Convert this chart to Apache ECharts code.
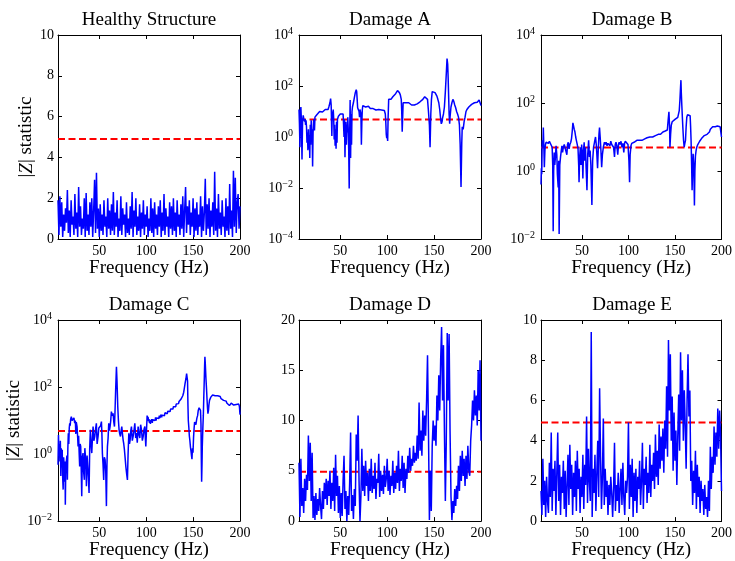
<!DOCTYPE html>
<html><head><meta charset="utf-8">
<script src="https://cdn.jsdelivr.net/npm/echarts@6/dist/echarts.min.js"></script>
<style>html,body{margin:0;padding:0;background:#fff}#c{width:735px;height:561px}</style>
</head><body><div id="c"></div>
<script>
// ---------------- data ----------------
const FREQ_START = 6, FREQ_END = 200, FREQ_STEP = 1;
const THRESHOLD = 4.9;
const TITLES = ['Healthy Structure', 'Damage A', 'Damage B', 'Damage C', 'Damage D', 'Damage E'];
const X_TICKS = [50, 100, 150, 200];
const X_NAME = 'Frequency (Hz)';
const Y_NAME = '|{i|Z}| statistic';

// uniformly sampled (1 Hz from 6 Hz)
const healthy = [
 1.9,0.2,2.1,0.6,1.8,0.1,1.2,0.4,1.5,0.8,
 2.4,0.3,1.4,0.1,1.9,0.7,1.1,0.2,2.2,0.5,
 1.3,0.1,2.55,0.6,1.6,0.2,1.0,0.5,2.0,0.1,
 2.25,0.4,1.2,0.2,1.8,0.6,2.0,0.1,1.4,2.9,
 0.3,3.25,0.5,1.5,0.1,1.7,0.4,1.2,0.2,1.9,
 0.6,1.1,0.1,2.0,0.5,1.4,0.2,1.7,0.4,2.3,
 0.2,1.3,0.6,1.9,0.1,1.0,0.4,2.1,0.2,1.5,
 0.7,1.2,0.1,1.8,0.3,1.0,0.2,1.6,0.5,2.3,
 0.1,1.4,0.6,2.0,0.2,1.1,0.4,1.7,0.1,1.3,
 0.5,1.9,0.2,1.2,0.6,1.6,0.1,1.0,0.4,2.0,
 0.3,1.5,0.1,1.8,0.5,1.2,0.2,1.6,0.6,1.9,
 0.1,1.3,0.4,2.2,0.2,1.5,0.6,1.1,0.1,1.8,
 0.5,1.6,0.2,2.0,0.4,1.3,0.1,1.9,0.6,1.2,
 0.2,1.7,0.5,2.1,0.1,1.4,2.55,0.3,1.6,0.7,
 1.9,0.2,1.3,0.6,2.0,0.1,1.5,0.4,1.8,0.2,
 1.2,0.6,2.1,0.1,1.6,0.4,1.3,2.95,0.2,1.7,
 0.5,2.0,0.1,1.4,0.6,1.8,0.2,3.3,0.4,1.5,
 0.1,2.2,0.5,1.3,0.2,1.9,0.6,1.1,0.1,2.0,
 0.4,1.6,0.2,2.7,0.5,1.4,0.1,3.35,0.6,3.0,
 0.3,1.8,2.2,0.5,1.6
];

const damageD = [
 5.8,0.4,6.2,1.5,3.3,0.8,4.2,2.0,4.6,3.1,
 8.5,4.0,7.8,2.0,6.8,0.3,2.5,0.1,2.8,0.6,
 2.2,1.0,3.3,1.5,0.2,3.0,1.2,3.8,2.2,4.2,
 1.6,4.0,2.5,5.0,1.2,3.8,2.0,5.3,1.0,6.6,
 2.5,4.5,0.8,3.5,0.3,2.8,0.5,4.0,6.5,1.2,
 3.0,0.0,2.5,0.6,3.8,8.8,1.0,2.6,0.2,3.2,
 1.5,8.6,6.0,10.5,4.0,0.0,2.5,7.2,3.0,5.5,
 2.5,6.0,3.5,4.8,2.0,5.2,3.0,6.2,2.8,4.5,
 3.2,5.8,2.2,4.2,3.8,6.7,2.4,5.0,3.0,4.6,
 2.7,5.5,3.4,4.2,6.2,3.0,5.0,2.6,4.5,3.5,
 6.0,2.8,4.8,3.2,5.5,3.8,7.0,3.0,5.2,4.0,
 6.5,3.3,5.8,2.8,5.2,4.2,6.5,4.8,7.3,5.0,
 6.2,5.5,7.5,5.8,6.8,6.0,8.5,6.2,11.8,7.0,
 9.0,6.5,11.0,8.0,10.5,8.5,12.0,16.5,9.0,0.1,
 5.0,1.0,7.5,10.0,8.0,9.5,7.5,12.5,10.0,14.5,
 11.0,16.0,19.3,12.0,17.5,9.0,2.0,8.0,18.7,12.0,
 18.6,9.0,2.5,0.1,2.0,0.8,3.2,1.5,3.5,2.2,
 5.5,3.0,6.5,4.0,7.0,4.5,6.2,3.5,6.5,4.2,
 7.5,5.0,4.5,8.0,9.5,12.0,10.0,13.0,10.5,12.5,
 9.5,15.0,11.0,16.0,8.0
];

const damageE = [
 1.5,0.3,3.1,0.8,2.0,0.2,2.2,1.0,0.4,2.9,
 1.2,4.4,0.5,2.6,1.5,3.0,0.3,2.4,4.4,1.0,
 2.8,0.3,2.2,1.4,3.0,0.6,2.5,0.2,1.8,3.3,
 0.8,3.8,1.6,2.8,0.3,2.4,1.2,3.0,0.5,3.5,
 1.6,2.6,0.4,2.2,1.2,3.3,0.6,2.8,1.8,5.2,
 0.9,3.6,2.0,1.0,9.4,0.2,2.6,1.4,3.3,0.5,
 2.4,4.0,1.2,6.6,3.2,0.6,2.2,5.1,0.8,2.6,
 1.2,2.0,0.3,1.8,0.8,2.2,1.4,0.2,1.6,3.9,
 0.5,1.8,1.0,2.4,0.4,1.6,2.6,0.8,2.9,1.2,
 0.3,2.0,1.4,2.2,4.9,0.6,2.8,1.2,3.1,0.2,
 2.4,1.0,2.6,0.4,2.2,1.6,3.0,0.8,2.0,3.9,
 0.6,2.6,1.8,3.2,0.9,2.4,1.4,3.8,1.2,2.8,
 2.0,3.4,1.6,4.3,2.2,3.5,1.8,4.8,2.6,4.2,
 3.0,4.6,2.4,5.0,3.6,6.7,3.2,9.0,5.5,8.3,
 4.0,6.2,2.5,5.4,3.0,4.5,1.8,4.2,6.3,3.5,
 8.4,5.0,7.5,4.0,6.5,4.8,2.6,6.0,8.3,5.2,
 6.5,2.0,3.0,0.8,2.5,1.4,3.5,0.6,2.8,1.2,
 2.2,0.4,2.0,1.0,1.6,0.3,1.8,0.6,1.2,0.2,
 2.0,0.5,3.7,1.6,3.2,2.4,4.7,2.8,4.4,3.2,
 5.6,3.6,5.5,4.2,1.5
];

// [frequency (Hz), |Z|] pairs for log panels
const damageA = [
 [6,12],[6.5,3],[7,0.4],[7.5,9],[8,15],[8.5,5],[9.2,0.13],[9.8,4],[10.5,7],[11,5.5],[11.5,6.5],[12,4],[12.5,5],[13,3],[13.5,4.5],[14,2.5],[14.5,0.6],[15,1.5],[15.5,0.3],[16,2],[16.5,0.35],[17,1.2],[17.5,0.15],[18,3],[18.5,0.5],[19,4.5],[19.5,1],[20,2],[20.5,0.07],[21,1.5],[21.5,4],[22,5],[22.5,1.8],[23,6],[24,7],[25,7.5],[26,8.5],[27,8],[28,10],[29,9],[30,10.5],[31,9.5],[32,11],[33,10],[34,12],[35,11],[36,13],[37,12],[38,16],[39,22],[39.7,32],[40.3,18],[41,1.1],[41.5,10],[42,8],[42.5,12],[43,5],[43.5,0.8],[44,3],[44.5,0.45],[45,2],[45.5,0.35],[46,4],[46.5,0.6],[47,5],[48,6.5],[49,7],[50,8],[51,8.5],[52,7],[53,8],[53.5,3],[54,1],[54.5,5],[55,0.16],[55.5,2],[56,4],[56.5,0.5],[57,3],[57.5,1.5],[58,6],[58.5,2],[59,0.3],[59.5,0.0095],[60,1],[60.5,28],[61,0.15],[61.5,8],[62,0.5],[62.5,10],[63,15],[64,22],[65,35],[66,55],[67,72],[67.5,60],[68,30],[68.5,14],[69,12],[69.5,15],[70,10],[70.5,6],[71,12],[72,8],[72.5,0.5],[73,4],[73.5,12],[74,17],[75,16],[76,18],[77,15],[78,17],[79,14],[80,16],[81,15],[82,13],[83,14],[84,12],[85,13],[86,12.5],[87,13],[88,11.5],[89,12.5],[90,11.5],[91,12],[92,11],[93,12],[94,11.5],[95,12],[96,11],[97,11],[98,8],[98.5,4],[99,1.3],[99.5,0.9],[100,1.2],[100.5,0.7],[101,6],[101.6,30],[102,28],[103,32],[104,30],[105,35],[106,38],[107,40],[108,45],[109,50],[110,58],[111,66],[112,62],[113,55],[114,45],[115,30],[115.5,10],[116,1.6],[116.5,6],[117,22],[118,25],[119,24],[120,22],[121,23],[122,21],[123,22],[124,19],[125,20],[126,18],[127,17.5],[128,19],[129,18],[130,20],[131,21],[132,20],[133,22],[134,23],[135,24],[136,25],[137,27],[138,30],[139,33],[140,38],[141,42],[142,45],[143,30],[144,10],[145,3],[145.7,0.4],[146.5,8],[147.2,30],[148,60],[149,70],[150,65],[151,55],[152,50],[153,40],[154,30],[155,22],[156,12],[157,5],[157.7,3.3],[158.5,4],[159,5.5],[160,8],[161,15],[162,60],[163,300],[163.8,1200],[164.5,700],[165,200],[165.5,40],[166,8],[166.6,3.3],[167,6],[168,15],[169,22],[170,30],[171,25],[172,18],[173,14],[174,10],[175,8],[176,6],[177,3],[177.8,0.5],[178.7,0.011],[179.5,0.6],[180,2.5],[181,2],[182,4],[183,6],[184,10],[185,12],[186,14],[187,15],[188,16],[189,17],[190,19],[191,18],[192,20],[193,22],[194,21],[195,24],[196,23],[197,26],[198,28],[199,22],[200,17]
];

const damageB = [
 [6,0.4],[6.4,1.2],[6.8,0.8],[7.3,8],[8,5],[8.5,19],[9,6],[9.6,1.3],[10.2,4],[10.8,6],[11.5,7],[12,6.2],[13,7.2],[14,6.5],[15,7.5],[16,6.8],[17,7],[18,5],[18.6,1.5],[19.1,0.017],[19.6,1],[20.2,3.5],[20.8,1.5],[21.5,2.6],[22.2,5.5],[23,3],[23.6,0.8],[24.5,0.33],[25,2],[25.5,0.014],[26.2,1.5],[27,2.6],[27.8,4],[28.5,5.5],[29.2,3.5],[30,5],[31,6],[32,5.5],[33,6.5],[33.8,3],[34.5,6],[35.3,7],[36.2,4.5],[37,6],[38,7],[38.8,9],[39.6,15],[40.3,26],[41,24],[41.7,17],[42.5,14],[43.3,10],[44,8],[45,6],[45.8,4.5],[46.5,1.5],[46.9,0.47],[47.5,2.5],[48.3,5],[49,1.5],[49.7,6],[50.4,3],[51,0.6],[51.7,4],[52.4,7],[53,2],[53.8,5],[54.5,1.2],[55.4,0.27],[56.2,3],[57.2,8],[58,2.6],[58.8,4],[59.6,1.5],[60.7,0.1],[61.5,2],[62.5,5],[63.5,7],[64.6,10],[65.4,6],[66,3.2],[66.8,1.2],[67.5,4],[68.3,12],[68.9,19],[69.6,10],[70.4,4],[71.2,1.3],[72,3],[73,5],[74.2,7],[75,6],[76,7],[77,5.5],[78,6.5],[79,7],[80,5.5],[81,7.5],[82,6],[83,6.8],[84,5],[85,2.6],[85.8,6],[86.6,7],[87.5,5.5],[88.5,3],[89.3,6],[90,7],[91,6],[92,7.5],[93,5],[94,6.5],[95,3.5],[95.8,6.5],[96.6,7.5],[97.5,6.8],[98.5,7.5],[99.5,6],[100.5,2],[101.2,0.47],[101.8,3],[102.7,5.5],[103.5,6.5],[104.5,6.4],[106,7],[107.5,7.5],[109,8],[110,7.5],[111.5,8],[113,8.5],[114.5,8],[116,9],[117.5,8.8],[118.7,9],[120,9.5],[121.5,9],[123,10],[124.5,9.5],[126,10],[127.5,10.5],[129,11],[130.5,10.5],[132,12],[133,12.5],[134.5,12],[136,13],[137,14],[138.2,13.5],[139.5,15],[140.5,14],[141.8,16],[142.6,30],[143.5,55],[144.2,20],[144.6,5],[145.3,12],[146,22],[147,28],[148,32],[149,30],[150,33],[151,35],[152,34],[153,38],[153.8,42],[154.6,60],[155.3,120],[156,300],[156.4,470],[156.8,200],[157.4,80],[158,35],[158.5,18],[159.2,8],[159.9,5],[160.6,6.5],[161.3,8],[162,20],[162.7,38],[163.5,45],[164.3,48],[164.8,50],[165.5,46],[166.3,42],[166.8,20],[167.3,8],[167.9,1.5],[168.4,0.27],[168.9,1],[169.5,3.2],[170.2,1.5],[170.9,0.096],[171.4,1],[172,2.8],[172.7,4],[173.4,5],[174.5,6],[175.5,6.5],[176.5,7.5],[177.5,8.5],[178.5,9],[179.5,10],[180.5,9.5],[181.5,11],[182.6,10],[183.5,11.5],[184.5,12],[185.5,13],[186.2,12.5],[187,14],[188,17],[188.7,19],[189.5,18],[190.5,20],[191.5,19],[192.5,21],[193.3,20],[194.5,19],[195.5,21],[196.8,20],[197.5,22],[198.5,20],[199.3,21],[200,10]
];

const damageC = [
 [6,0.48],[6.5,3.7],[7,0.9],[7.5,2],[8,0.6],[8.5,2.5],[9,0.22],[9.5,1.5],[10,0.4],[10.5,1.35],[11,0.2],[11.5,0.087],[12,0.8],[12.5,0.5],[13,0.15],[13.5,0.6],[13.8,0.031],[14.3,0.4],[14.9,0.43],[15.5,0.9],[16,0.17],[16.5,1.5],[17,4.2],[17.5,2],[18,6],[18.5,8.3],[19,7],[19.5,11],[20.2,13],[21,10],[22,9.3],[23,12],[23.8,8.3],[24.5,10],[25,4],[25.5,9],[26.3,6.6],[27,3],[27.4,1.7],[28,3.5],[28.5,1.2],[29.1,0.43],[29.6,2],[30.2,1.7],[30.8,0.3],[31.3,0.055],[31.9,0.8],[32.7,1.07],[33.3,0.3],[34.1,0.17],[34.6,1.5],[35.2,1.7],[35.8,0.5],[36.3,0.11],[37,0.9],[37.7,0.43],[38.4,0.2],[39.1,0.069],[39.8,1.5],[40.5,5.3],[41.2,2],[42,1.07],[42.7,3],[43.4,6.6],[44.2,2.5],[45.2,3.35],[46,5.5],[46.9,8.3],[47.7,2],[48.7,3.35],[49.5,6],[50.5,5.3],[51.4,7],[52.3,9.3],[52.8,4],[53.3,1.07],[54,0.5],[54.7,0.17],[55.4,0.8],[56.2,0.68],[56.9,0.3],[57.6,0.028],[58.2,0.5],[58.7,1.7],[59.4,3],[60.1,8.3],[60.8,5],[61.5,6.6],[62.2,10],[62.9,18.5],[63.8,14],[64.7,16.5],[65.5,9],[66.2,6.6],[66.8,20],[67.5,90],[68.3,400],[68.9,150],[69.7,26],[70.4,10],[71.1,5.3],[71.8,4],[72.6,3.35],[73.3,5],[74,6.6],[74.7,4],[75.4,2.67],[76.1,2],[76.8,1.35],[77.5,0.8],[78.3,0.43],[79.2,0.25],[80,0.17],[80.7,1],[81.5,4.2],[82.2,2],[82.9,2.67],[83.6,5],[84.3,6.6],[85.2,2.5],[86.1,3.35],[87,5],[87.9,8.3],[88.8,3],[89.7,4.2],[90.5,2.2],[91.4,6.6],[92.3,4],[93.2,3],[94.1,7.5],[95,5.3],[95.9,2.5],[96.8,3.35],[97.7,5.5],[98.6,6.6],[99.1,3],[99.6,1.69],[100.3,1.5],
 [101,14],[101.5,11],[102,13],[102.5,9.5],[103,11],[103.5,8.5],[104,10],[104.5,8],[105,10.5],[105.5,9],[106,11],[106.5,8.5],[107,10.5],[107.5,9.5],[108,12],[108.5,9.5],[109,11.5],[109.5,10],[110,12.5],[110.5,10],[111,12],[111.5,10.5],[112,13],[112.5,11],[113,13.5],[113.5,11.5],[114,14],[114.5,12],[115,13],[115.5,12.5],[116,15],[116.5,12.5],[117,14.5],[117.5,13],[118,16],[118.5,14],[119,16.5],[119.5,14],[120,17],[120.5,15],[121,18],[121.5,15.5],[122,18.5],[122.5,16],[123,19],[123.5,17],[124,20],[124.5,18],[125,21],[125.5,18.5],[126,22],[126.5,20],[127,23],[127.5,21],[128,25],[128.5,22],[129,26],[129.5,23],[130,27],[130.5,25],[131,29],[131.5,26],[132,31],[132.5,28],[133,33],[133.5,30],[134,35],[134.5,32],[135,37],[135.5,34],[136,40],[136.5,37],[137,43],[137.5,41],[138,48],[138.5,46],[139,55],[139.5,58],[140,70],
 [140.6,90],[141.5,130],[142.4,180],[143.1,250],[143.6,220],[144.1,150],[144.5,30],[144.9,10],[145.5,6],[146,3.5],[146.6,2.5],[147.2,1.6],[147.8,1.2],[148.4,0.85],[148.8,0.7],[149.3,1.5],[149.9,1.1],[150.5,3.2],[151.1,6],[151.6,9],[152.3,8],[153,7.5],[153.6,10],[154.1,12],[154.8,14],[155.5,20],[156.4,24],[157.3,26],[157.9,20],[158.4,8],[158.8,0.6],[159.1,0.15],[159.5,0.5],[159.8,1.7],[160.4,6],[160.9,14],[161.4,50],[161.9,160],[162.3,450],[162.6,800],[163,500],[163.7,180],[164.3,90],[164.8,46],[165.3,25],[165.8,16],[166.4,20],[166.9,30],[167.5,40],[168,45],[168.9,50],[169.8,55],[170.8,58],[171.7,52],[172.6,57],[173.5,55],[174.4,58],[175.3,52],[176.2,55],[177.1,50],[178,48],[178.9,52],[179.8,45],[180.7,42],[181.6,46],[182.5,40],[183.4,36],[184.3,35],[185.2,38],[186.1,33],[187,30],[187.9,32],[188.8,28],[189.7,31],[190.6,33],[191.5,30],[192.4,32],[193.3,29],[194.2,31],[195.1,28],[196,30],[196.9,27],[197.8,29],[198.7,31],[199.4,26],[200,15]
];

// ---------------- chart ----------------
const FONT = "'Liberation Serif','Times New Roman',serif";
function uniform(vals) { return vals.map((v, i) => [FREQ_START + i * FREQ_STEP, v]); }

const GRIDS = [
  {left: 58, top: 35, width: 182, height: 204},
  {left: 299, top: 35, width: 182, height: 204},
  {left: 541, top: 35, width: 182, height: 204},
  {left: 58, top: 320, width: 182, height: 202},
  {left: 299, top: 320, width: 182, height: 202},
  {left: 541, top: 320, width: 182, height: 202}
];

const PANELS = [
  {data: uniform(healthy), y: {type: 'value', min: 0, max: 10, interval: 2}, yname: true},
  {data: damageA, y: {type: 'log', logBase: 10, min: 1e-4, max: 1e4, interval: 2}},
  {data: damageB, y: {type: 'log', logBase: 10, min: 1e-2, max: 1e4, interval: 2}},
  {data: damageC, y: {type: 'log', logBase: 10, min: 1e-2, max: 1e4, interval: 2}, yname: true},
  {data: uniform(damageD), y: {type: 'value', min: 0, max: 20, interval: 5}},
  {data: uniform(damageE), y: {type: 'value', min: 0, max: 10, interval: 2}}
];

function logFmt(v) {
  const e = Math.round(Math.log10(v));
  return '{b|10}{s|' + (e < 0 ? '\u2212' + (-e) : e) + '}';
}

const grid = [], xAxis = [], yAxis = [], series = [], title = [];
const txt = {fontFamily: FONT, color: '#000'};
PANELS.forEach((p, i) => {
  const g = GRIDS[i];
  grid.push({left: g.left, top: g.top, width: g.width, height: g.height, containLabel: false, show: false});
  title.push({text: TITLES[i], left: g.left + g.width / 2, top: g.top - 24, textAlign: 'center', padding: 0,
    textStyle: Object.assign({fontSize: 19, fontWeight: 'normal'}, txt)});
  const axLine = {show: true, onZero: false, lineStyle: {color: '#000', width: 1}};
  const xb = {type: 'value', min: FREQ_START, max: FREQ_END, gridIndex: i, splitLine: {show: false},
    axisLine: axLine,
    axisTick: {show: true, inside: true, length: 4, customValues: X_TICKS, lineStyle: {color: '#000'}}};
  xAxis.push(Object.assign({}, xb, {position: 'bottom', name: X_NAME, nameLocation: 'middle', nameGap: 18,
    nameTextStyle: Object.assign({fontSize: 19}, txt),
    axisLabel: Object.assign({show: true, customValues: X_TICKS, margin: 5, fontSize: 14}, txt)}));
  xAxis.push(Object.assign({}, xb, {position: 'top', axisLabel: {show: false}}));
  const isLog = p.y.type === 'log';
  const yb = Object.assign({gridIndex: i, splitLine: {show: false}, axisLine: axLine,
    axisTick: {show: true, inside: true, length: 4, lineStyle: {color: '#000'}},
    minorTick: {show: false}}, p.y);
  const yl = {position: 'left',
    axisLabel: Object.assign({show: true, fontSize: 14, margin: isLog ? 6 : 4,
      formatter: isLog ? logFmt : (v => String(v)),
      rich: {b: Object.assign({fontSize: 14, lineHeight: 18}, txt),
             s: Object.assign({fontSize: 10, lineHeight: 10, verticalAlign: 'top'}, txt)}}, txt)};
  if (p.yname) {
    Object.assign(yl, {name: Y_NAME, nameLocation: 'middle', nameRotate: 90, nameGap: 22,
      nameTextStyle: Object.assign({fontSize: 19, rich: {i: Object.assign({fontSize: 19, fontStyle: 'italic'}, txt)}}, txt)});
  }
  yAxis.push(Object.assign({}, yb, yl));
  yAxis.push(Object.assign({}, yb, {position: 'right', axisLabel: {show: false}}));
  series.push({type: 'line', xAxisIndex: 2 * i, yAxisIndex: 2 * i, symbol: 'none', silent: true, z: 2,
    data: [[FREQ_START, THRESHOLD], [FREQ_END, THRESHOLD]],
    lineStyle: {color: '#ff0000', width: 2, type: [7, 3.5]}});
  series.push({type: 'line', xAxisIndex: 2 * i, yAxisIndex: 2 * i, symbol: 'none', z: 3,
    data: p.data, lineStyle: {color: '#0000ff', width: 1.5}});
});

const chart = echarts.init(document.getElementById('c'));
chart.setOption({animation: false, backgroundColor: '#fff', title, grid, xAxis, yAxis, series});
</script>
</body></html>
